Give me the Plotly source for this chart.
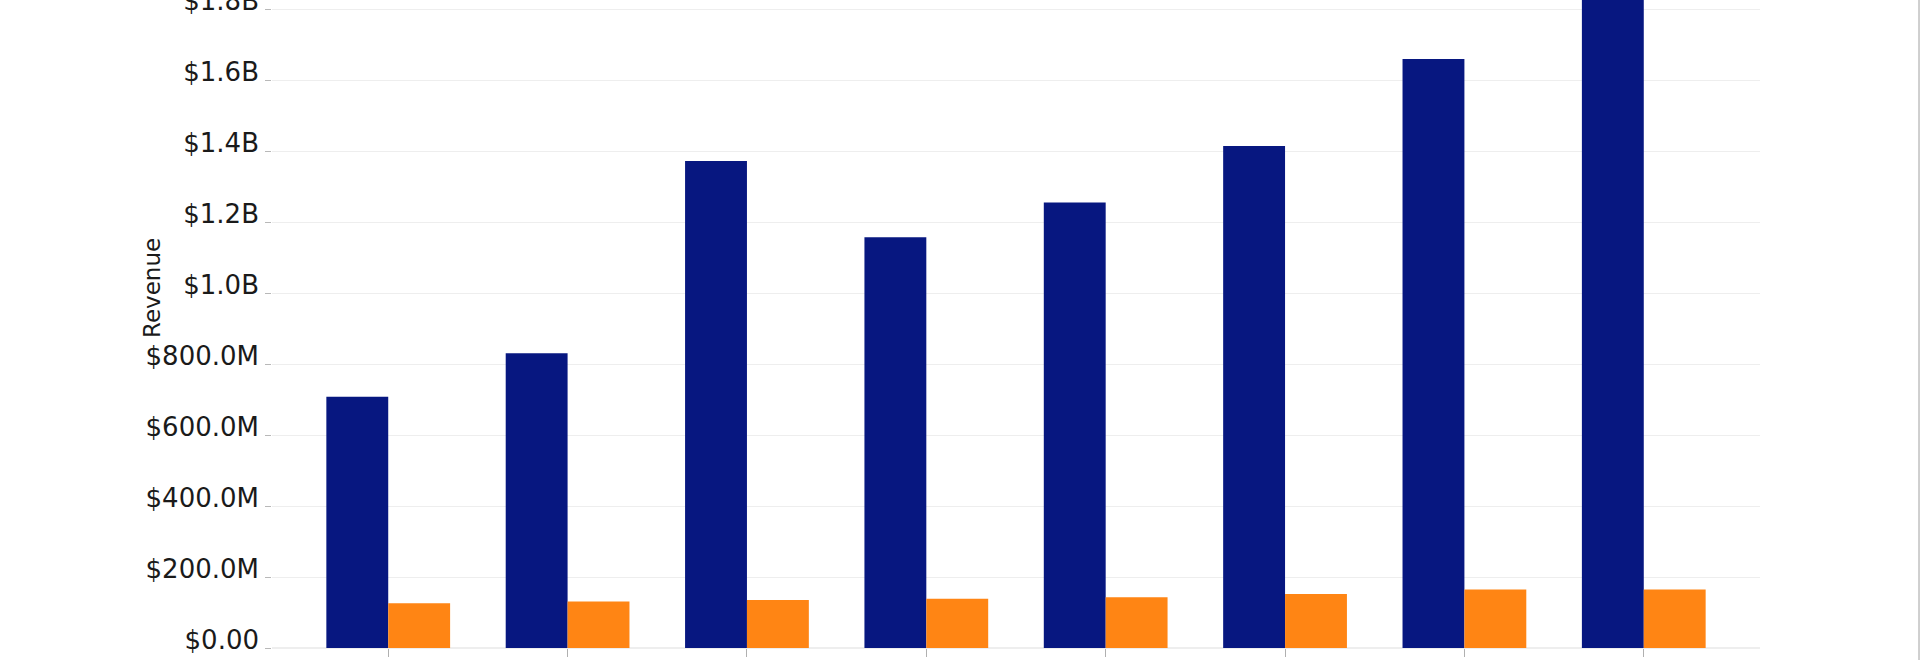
import plotly.graph_objects as go

# categories are cut off below the visible area in the reference
years = ["2016", "2017", "2018", "2019", "2020", "2021", "2022", "2023"]
revenue = [708e6, 830e6, 1372e6, 1157e6, 1255e6, 1414e6, 1659e6, 1900e6]
other = [126e6, 131e6, 135e6, 139e6, 143e6, 152e6, 165e6, 165e6]

tick_vals = [0, 200e6, 400e6, 600e6, 800e6, 1.0e9, 1.2e9, 1.4e9, 1.6e9, 1.8e9]
tick_text = ["$0.00", "$200.0M", "$400.0M", "$600.0M", "$800.0M",
             "$1.0B", "$1.2B", "$1.4B", "$1.6B", "$1.8B"]

font = "DejaVu Sans"

W, H = 1920, 660
L, R, T, B = 272, 160, 0, 12
plot_w = W - L - R
plot_h = H - T - B

y_top = 1.8254e9
# labels in the reference sit ~8px above their tick, done with an overlaid label axis
label_shift = 8 / plot_h * y_top

fig = go.Figure()
fig.add_trace(go.Bar(x=years, y=revenue, name="Revenue", marker_color="#071780",
                     marker_line_width=0))
fig.add_trace(go.Bar(x=years, y=other, name="Other", marker_color="#FF8514",
                     marker_line_width=0))
# empty trace so the label axis gets drawn
fig.add_trace(go.Scatter(x=[], y=[], yaxis="y2", showlegend=False, hoverinfo="skip"))

fig.update_layout(
    width=W, height=H,
    margin=dict(l=L, r=R, t=T, b=B, autoexpand=False),
    barmode="group", bargap=0.31, bargroupgap=0,
    showlegend=False,
    plot_bgcolor="white", paper_bgcolor="white",
    font=dict(family=font, size=26, color="#1a1a1a"),
    xaxis=dict(
        range=[-0.648, 7.648], showticklabels=False, showgrid=False,
        ticks="outside", ticklen=8, tickcolor="#b0b0b0", tickwidth=1,
        showline=False, zeroline=False, automargin=False,
    ),
    yaxis=dict(
        range=[0, y_top], tickvals=tick_vals, showticklabels=False,
        ticks="outside", ticklen=6, tickcolor="#b8b8b8", tickwidth=1,
        automargin=False,
        gridcolor="#eeeeee", gridwidth=1, zeroline=True, zerolinecolor="#eeeeee",
        showline=False,
    ),
    yaxis2=dict(
        overlaying="y", side="left", anchor="x",
        range=[-label_shift, y_top - label_shift],
        tickvals=tick_vals, ticktext=tick_text, showticklabels=True,
        ticks="", ticklabelstandoff=12, ticklabeloverflow="allow",
        showgrid=False, zeroline=False, showline=False, automargin=False,
    ),
)

# axis title sits off-centre because the original plot was cropped
fig.add_annotation(
    text="Revenue", textangle=-90, showarrow=False,
    xref="paper", yref="paper", x=(152 - L) / plot_w, y=(plot_h - 288) / plot_h,
    xanchor="center", yanchor="middle",
    font=dict(family=font, size=23, color="#1a1a1a"),
)

# thin border at the right edge of the frame
fig.add_shape(type="line", xref="paper", yref="paper",
              x0=(W - 1 - L) / plot_w, x1=(W - 1 - L) / plot_w, y0=-B / plot_h, y1=1,
              line=dict(color="#a0a0a0", width=1))

# drop the default body margin so the figure fills the window exactly
fig.write_html("out.html", config={"displayModeBar": False},
               post_script="document.body.style.margin = '0';")
